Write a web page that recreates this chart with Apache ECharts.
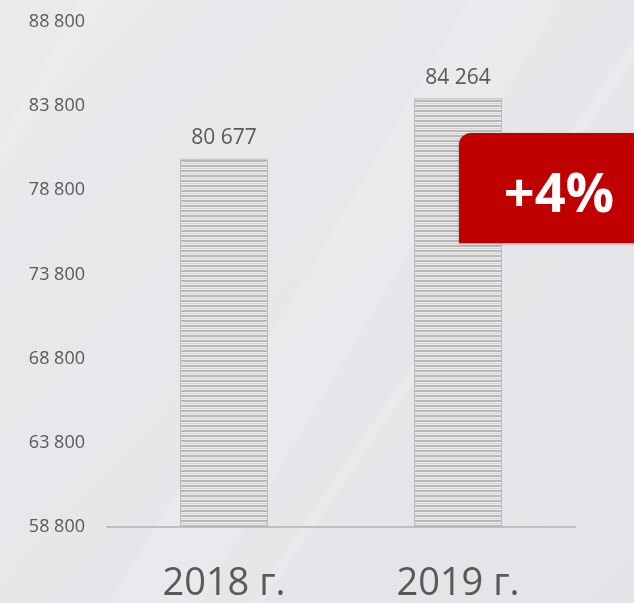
<!DOCTYPE html>
<html>
<head>
<meta charset="utf-8">
<script src="https://cdn.jsdelivr.net/npm/echarts@6/dist/echarts.min.js"></script>
<style>
  html, body { margin: 0; padding: 0; }
  #chart { width: 634px; height: 603px; }
</style>
</head>
<body>
<div id="chart"></div>
<script>
var years = ['2018 г.', '2019 г.']
var values = [80677, 84264]
var growthLabel = '+4%'

// число с пробелом между разрядами
function fmt (v) {
  return String(v).replace(/\B(?=(\d{3})+(?!\d))/g, ' ')
}

// полосатая заливка столбцов
var stripe = document.createElement('canvas')
stripe.width = 8
stripe.height = 5
var ctx = stripe.getContext('2d')
ctx.fillStyle = '#ececec'
ctx.fillRect(0, 0, 8, 5)
ctx.fillStyle = '#b8b8b8'
ctx.fillRect(0, 0, 8, 2)
ctx.fillStyle = '#d4d4d4'
ctx.fillRect(0, 3, 8, 1)

var myChart = echarts.init(document.getElementById('chart'))
myChart.setOption({
  backgroundColor: {
    type: 'linear', x: 0, y: 0, x2: 1, y2: 1,
    colorStops: [
      { offset: 0, color: '#e8eaec' },
      { offset: 1, color: '#e2e4e7' }
    ]
  },
  animation: false,
  grid: { left: 107, right: 59, top: 22, bottom: 76 },
  graphic: [
    // светлые диагональные полосы фона
    { type: 'polygon', z: -10, shape: { points: [[110, 603], [200, 603], [560, 0], [470, 0]] }, style: { fill: 'rgba(255,255,255,0.14)' } },
    { type: 'polygon', z: -10, shape: { points: [[250, 603], [262, 603], [634, 60], [634, 40]] }, style: { fill: 'rgba(255,255,255,0.18)' } },
    { type: 'polygon', z: -10, shape: { points: [[0, 140], [0, 170], [110, 0], [80, 0]] }, style: { fill: 'rgba(255,255,255,0.12)' } },
    {
      type: 'rect',
      z: 100,
      shape: { x: 459, y: 133, width: 200, height: 110, r: [12, 0, 0, 0] },
      style: { fill: '#c00000', shadowBlur: 3, shadowColor: 'rgba(0,0,0,0.3)', shadowOffsetY: 1 }
    },
    {
      type: 'text',
      z: 101,
      x: 559,
      y: 197,
      style: {
        text: growthLabel,
        fill: '#ffffff',
        font: 'bold 54px "Open Sans", sans-serif',
        textAlign: 'center',
        textVerticalAlign: 'middle'
      }
    }
  ],
  xAxis: {
    type: 'category',
    data: years,
    axisLine: { lineStyle: { color: '#bfbfbf', width: 2 } },
    axisTick: { show: false },
    axisLabel: {
      color: '#595959',
      fontSize: 38,
      fontFamily: 'Open Sans',
      margin: 38
    }
  },
  yAxis: {
    type: 'value',
    min: 58800,
    max: 88800,
    interval: 5000,
    splitLine: { show: false },
    axisLine: { show: false },
    axisLabel: {
      color: '#595959',
      fontSize: 18,
      fontFamily: 'Open Sans',
      margin: 22,
      formatter: fmt
    }
  },
  series: [{
    type: 'bar',
    data: values,
    barWidth: 88,
    itemStyle: {
      color: { image: stripe, repeat: 'repeat' },
      borderColor: '#bdbdbd',
      borderWidth: 1
    },
    label: {
      show: true,
      position: 'top',
      distance: 10,
      color: '#595959',
      fontSize: 21,
      fontFamily: 'Open Sans',
      formatter: function (p) { return fmt(p.value) }
    }
  }]
})
</script>
</body>
</html>
